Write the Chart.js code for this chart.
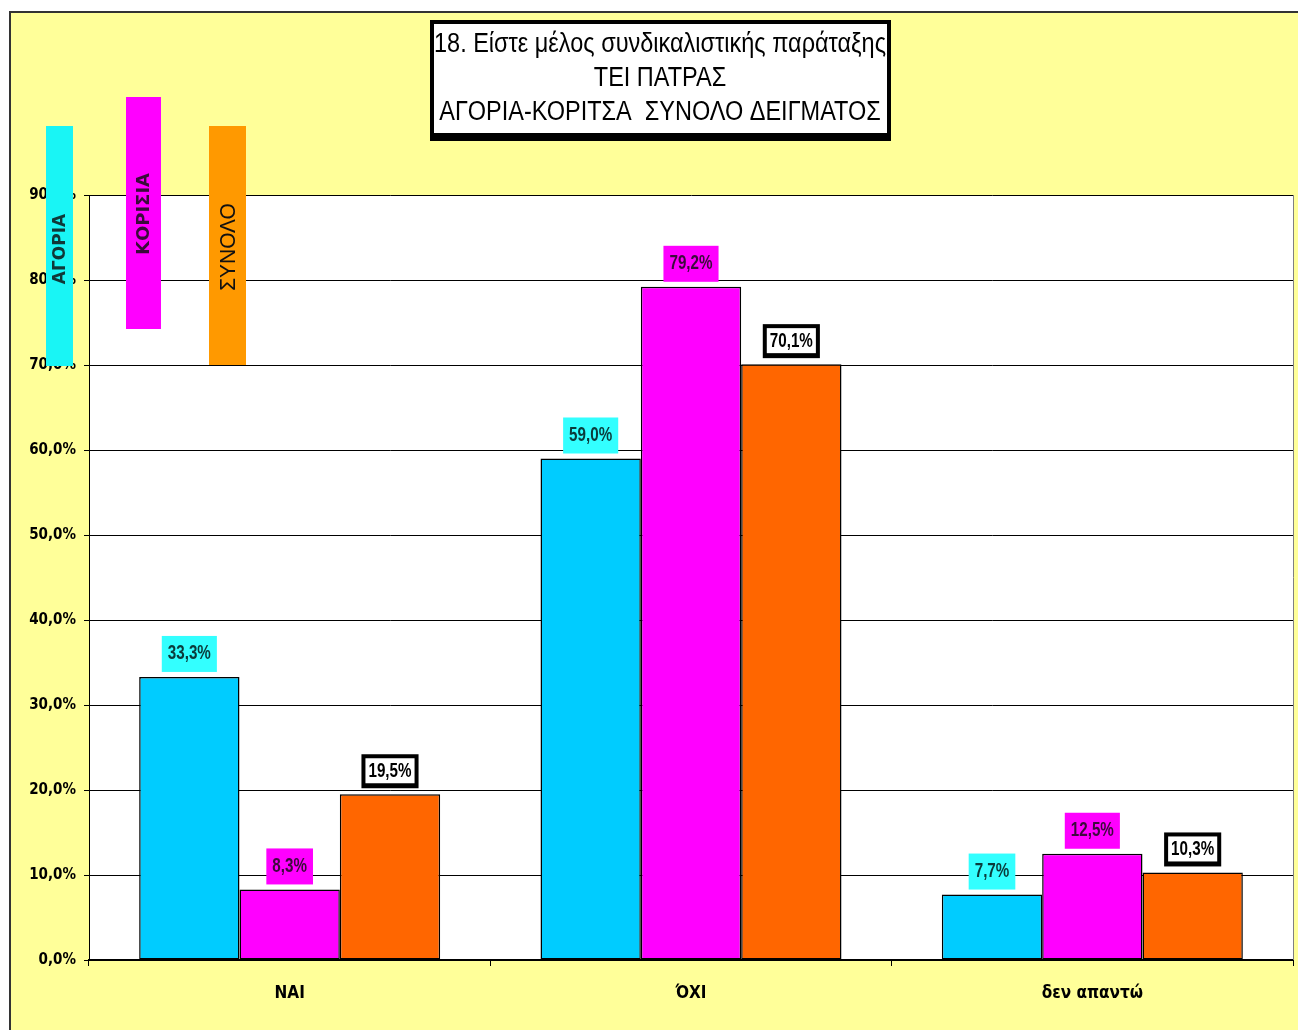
<!DOCTYPE html>
<html>
<head>
<meta charset="utf-8">
<script src="https://cdn.jsdelivr.net/npm/chart.js@4/dist/chart.umd.min.js"></script>
<style>
  body { margin: 0; background: #fff; }
  canvas { display: block; }
</style>
</head>
<body>
<canvas id="grafico" width="1298" height="1030"></canvas>
<script>
// dados do grafico
const categorias = ['ΝΑΙ', 'ΌΧΙ', 'δεν απαντώ'];
const nomesSeries = ['ΑΓΟΡΙΑ', 'ΚΟΡΙΣΙΑ', 'ΣΥΝΟΛΟ'];
const agoria = [33.3, 59.0, 7.7];
const koritsia = [8.3, 79.2, 12.5];
const synolo = [19.5, 70.1, 10.3];
const eixoMax = 90;
const eixoPasso = 10;
const tituloLinhas = ['18. Είστε μέλος συνδικαλιστικής παράταξης', 'ΤΕΙ ΠΑΤΡΑΣ', 'ΑΓΟΡΙΑ-ΚΟΡΙΤΣΑ  ΣΥΝΟΛΟ ΔΕΙΓΜΑΤΟΣ'];

const NARROW = "'Liberation Sans Narrow', 'DejaVu Sans Condensed', 'Arial Narrow', sans-serif";
const fmt = v => v.toFixed(1).replace('.', ',') + '%';

// texto "estreito": Liberation Sans comprimido na horizontal
function textoEstreito(c, t, x, y, font, escala) {
    c.save();
    c.font = font;
    c.translate(x, y);
    c.scale(escala, 1);
    c.fillText(t, 0, 0);
    c.restore();
}

// fundo amarelo, area branca, titulo e legenda
const decoracao = {
    id: 'decoracao',
    beforeDraw(chart) {
        const c = chart.ctx, a = chart.chartArea;
        c.save();
        c.fillStyle = '#ffffff';
        c.fillRect(0, 0, chart.width, chart.height);
        c.fillStyle = '#FFFF99';
        c.fillRect(10, 13, chart.width - 10, chart.height - 13);
        c.strokeStyle = '#333';
        c.lineWidth = 2;
        c.beginPath();
        c.moveTo(10, chart.height);
        c.lineTo(10, 12);
        c.lineTo(chart.width, 12);
        c.stroke();
        c.fillStyle = '#ffffff';
        c.fillRect(a.left, a.top, a.right - a.left, a.bottom - a.top);
        c.restore();
    },
    afterDraw(chart) {
        const c = chart.ctx, a = chart.chartArea;
        c.save();
        // borda direita da area
        c.strokeStyle = '#808080';
        c.lineWidth = 1;
        c.beginPath();
        c.moveTo(a.right + 0.5, a.top);
        c.lineTo(a.right + 0.5, a.bottom);
        c.stroke();

        // caixa do titulo
        c.fillStyle = '#000';
        c.fillRect(430, 20, 461, 121);
        c.fillStyle = '#fff';
        c.fillRect(434, 24, 453, 109);
        c.fillStyle = '#000';
        c.textAlign = 'center';
        c.textBaseline = 'middle';
        const fTit = "27px 'Liberation Sans', Arial, sans-serif";
        c.font = fTit;
        const esc = Math.min(1, 452 / c.measureText(tituloLinhas[0]).width);
        tituloLinhas.forEach((t, i) => textoEstreito(c, t, 660, 45 + i * 34, fTit, esc));

        // legenda vertical
        const leg = [
            { x: 46, y: 126, w: 27, h: 240, cor: '#19F5F5', ty: 249, font: "bold 17px 'DejaVu Sans', sans-serif", txt: '#103838', esc: 1 },
            { x: 126, y: 97, w: 35, h: 232, cor: '#FF00FF', ty: 214, font: "bold 18px 'DejaVu Sans', sans-serif", txt: '#3a0a3a', esc: 1 },
            { x: 209, y: 126, w: 37, h: 239, cor: '#FF9900', ty: 247, font: "22px 'Liberation Sans', sans-serif", txt: '#111', esc: 0.95 }
        ];
        leg.forEach((l, i) => {
            c.fillStyle = l.cor;
            c.fillRect(l.x, l.y, l.w, l.h);
            c.save();
            c.translate(l.x + l.w / 2, l.ty);
            c.rotate(-Math.PI / 2);
            c.fillStyle = l.txt;
            textoEstreito(c, nomesSeries[i], 0, 1, l.font, l.esc);
            c.restore();
        });
        c.restore();
    }
};

// rotulos de valor acima das barras
const rotulos = {
    id: 'rotulos',
    afterDatasetsDraw(chart) {
        const c = chart.ctx;
        const estilos = [
            { bg: '#33FFFF', txt: '#0b3b3b', borda: false },
            { bg: '#FF00FF', txt: '#3d0a3d', borda: false },
            { bg: '#FFFFFF', txt: '#000', borda: true }
        ];
        const fRot = "bold 20px 'Liberation Sans', Arial, sans-serif";
        c.save();
        c.font = fRot;
        c.textAlign = 'center';
        c.textBaseline = 'middle';
        chart.data.datasets.forEach((ds, di) => {
            const meta = chart.getDatasetMeta(di);
            const e = estilos[di];
            meta.data.forEach((bar, i) => {
                const t = fmt(ds.data[i]);
                c.font = fRot;
                const w = c.measureText(t).width * 0.76 + 12;
                const h = 36;
                const x = bar.x - w / 2, y = bar.y - 5 - h;
                if (e.borda) {
                    c.fillStyle = '#000';
                    c.fillRect(x - 1, y + 1, w + 2, h - 2);
                    c.fillStyle = e.bg;
                    c.fillRect(x + 3, y + 5, w - 6, h - 11);
                } else {
                    c.fillStyle = e.bg;
                    c.fillRect(x, y, w, h);
                }
                c.fillStyle = e.txt;
                textoEstreito(c, t, bar.x, y + h / 2, fRot, 0.76);
            });
        });
        c.restore();
    }
};

new Chart(document.getElementById('grafico'), {
    type: 'bar',
    data: {
        labels: categorias,
        datasets: [
            { label: nomesSeries[0], data: agoria, backgroundColor: '#00CCFF' },
            { label: nomesSeries[1], data: koritsia, backgroundColor: '#FF00FF' },
            { label: nomesSeries[2], data: synolo, backgroundColor: '#FF6600' }
        ].map(d => Object.assign(d, {
            borderColor: '#000',
            borderWidth: 1.5,
            borderSkipped: false,
            categoryPercentage: 0.75,
            barPercentage: 1.0
        }))
    },
    options: {
        responsive: false,
        animation: false,
        layout: { padding: { top: 195, left: 0, right: 5, bottom: 0 } },
        plugins: {
            legend: { display: false },
            title: { display: false },
            tooltip: { enabled: false }
        },
        scales: {
            x: {
                afterFit: s => { s.height = 70; },
                grid: { drawOnChartArea: false, drawTicks: true, tickLength: 6, color: '#000', offset: true },
                border: { color: '#000', width: 2 },
                ticks: { color: '#000', padding: 17, font: { family: NARROW, size: 17, weight: 'bold' } }
            },
            y: {
                min: 0,
                max: eixoMax,
                afterFit: s => { s.width = 89; },
                grid: { color: '#000', lineWidth: 1, tickLength: 5 },
                border: { color: '#000', width: 1 },
                ticks: {
                    stepSize: eixoPasso,
                    color: '#000',
                    padding: 8,
                    font: { family: NARROW, size: 15, weight: 'bold' },
                    callback: v => fmt(v)
                }
            }
        }
    },
    plugins: [decoracao, rotulos]
});
</script>
</body>
</html>
